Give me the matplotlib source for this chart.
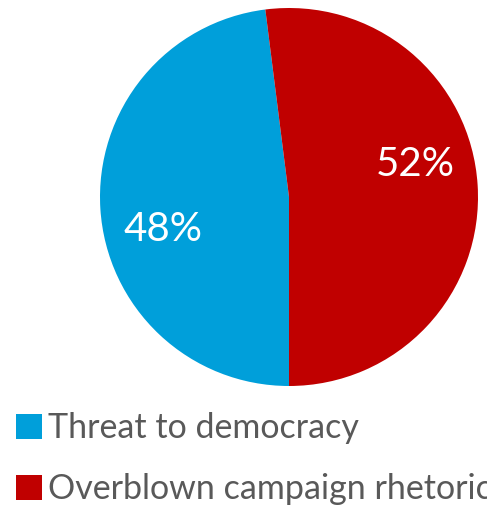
import numpy as np
import matplotlib
matplotlib.use("Agg")
import matplotlib.pyplot as plt

labels = ["Threat to democracy", "Overblown campaign rhetoric"]
shares = [48, 52]
colors = ["#009FDA", "#C00000"]

W, H = 487, 505
fig = plt.figure(figsize=(W / 100, H / 100), dpi=100)
plt.rcParams['font.family'] = ['Lato', 'DejaVu Sans']

# pie centre (289, 197) px from top-left, radius 189 px
cx, cy, r = 289, 197, 189
ax = fig.add_axes([(cx - r) / W, (H - cy - r) / H, 2 * r / W, 2 * r / H])

wedges, _, autotexts = ax.pie(
    shares, colors=colors, startangle=270, counterclock=False,
    autopct="%d%%", pctdistance=0.69, radius=1,
    wedgeprops=dict(linewidth=0),
    textprops=dict(color="white", fontsize=29),
)

# Excel places the labels a bit off the wedge middle: turn them ~11 deg
rot = np.deg2rad(11)
for t in autotexts:
    x, y = t.get_position()
    t.set_position((x * np.cos(rot) - y * np.sin(rot), x * np.sin(rot) + y * np.cos(rot)))

ax.set_xlim(-1, 1)
ax.set_ylim(-1, 1)
ax.set_aspect("equal")
ax.axis("off")

fig.legend(wedges, labels, loc="upper left", bbox_to_anchor=(16 / W, 1 - 412 / H),
           frameon=False, fontsize=24.5, labelcolor="#595959",
           handlelength=0.75, handleheight=0.75, handletextpad=0.2,
           labelspacing=0.85, borderaxespad=0, borderpad=0)

fig.savefig("out.png", dpi=100)
